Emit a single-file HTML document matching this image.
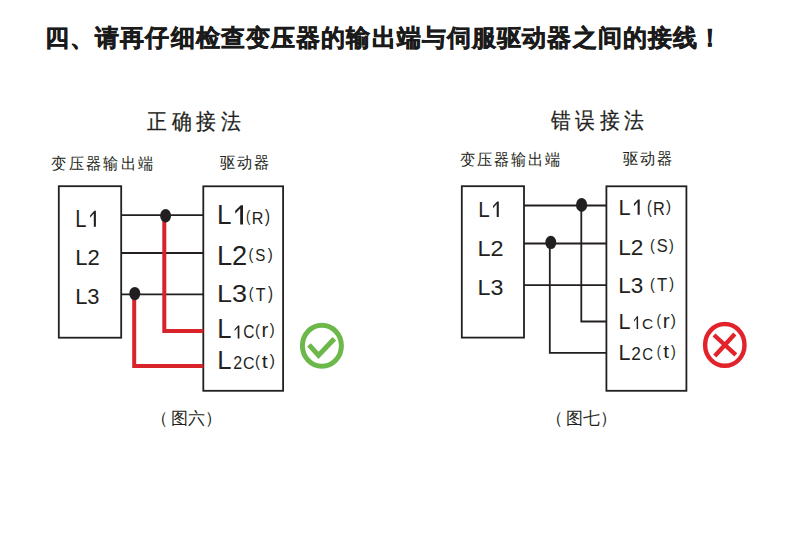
<!DOCTYPE html>
<html><head><meta charset="utf-8">
<style>
html,body{margin:0;padding:0;background:#fff;width:790px;height:535px;overflow:hidden}
svg{position:absolute;left:0;top:0;display:block}
text{fill:#231f20;font-kerning:none}
svg{font-family:"Liberation Sans",sans-serif}
.lat text{font-size:100px}
</style></head><body>
<svg width="790" height="535" viewBox="0 0 790 535">
<text x="45" y="45.9" font-size="24" font-weight="bold" fill="#1a1a1a" stroke="#1a1a1a" stroke-width="0.5" letter-spacing="1.12">四、请再仔细检查变压器的输出端与伺服驱动器之间的接线！</text>

<!-- LEFT DIAGRAM -->
<text transform="translate(147.2 128.6) scale(0.9 1)" x="0" y="0" font-size="22" letter-spacing="5.1" stroke="#231f20" stroke-width="0.25">正确接法</text>
<text transform="translate(51.4 169.1) scale(0.95 1)" font-size="15.5" letter-spacing="2.83">变压器输出端</text>
<text transform="translate(219.5 168.3) scale(0.95 1)" font-size="15.5" letter-spacing="2.55">驱动器</text>

<g fill="none" stroke="#231f20" stroke-width="1.8">
  <rect x="58.8" y="186.2" width="62.4" height="151.5"/>
  <rect x="203.3" y="186.3" width="79.8" height="204.5"/>
  <path d="M121 215.1H203.3M121 253H203.3M121 294.4H203.3"/>
</g>
<g fill="none" stroke="#d8232b" stroke-width="4">
  <path d="M164.3 216V331H203.3"/>
  <path d="M134.2 294V366H203.3"/>
</g>
<g fill="#231f20">
  <ellipse cx="165.6" cy="215.7" rx="5.5" ry="6.8"/>
  <ellipse cx="134.8" cy="293.6" rx="5.5" ry="6.7"/>
</g>
<g fill="none" stroke="#6cb84a" stroke-width="5">
  <ellipse cx="321.9" cy="345.8" rx="19.5" ry="20.5"/>
  <path d="M309 344.8L318.5 355.4L334.3 338.7"/>
</g>
<g font-size="16.5">
<text x="151.4" y="423.5">（</text><text x="171" y="423.5">图六</text><text x="204.9" y="423.5">）</text>
</g>

<!-- RIGHT DIAGRAM -->
<text transform="translate(550.7 127.9) scale(0.9 1)" x="0" y="0" font-size="22" letter-spacing="5.1" stroke="#231f20" stroke-width="0.25">错误接法</text>
<text transform="translate(459.9 165.4) scale(0.95 1)" font-size="15.5" letter-spacing="2.5">变压器输出端</text>
<text transform="translate(622.6 163.8) scale(0.95 1)" font-size="15.5" letter-spacing="2.55">驱动器</text>

<g fill="none" stroke="#231f20" stroke-width="1.8">
  <rect x="461.8" y="186.2" width="62.2" height="151.4"/>
  <rect x="606.4" y="186.3" width="80" height="204.5"/>
  <path d="M524 205.5H606.4M524 243.5H606.4M524 285.1H606.4"/>
  <path d="M581.3 205V321.5H606.4"/>
  <path d="M549.8 243V352.8H606.4"/>
</g>
<g fill="#231f20">
  <ellipse cx="581.6" cy="204.9" rx="5.6" ry="7"/>
  <ellipse cx="550.8" cy="242.4" rx="5.5" ry="6.7"/>
</g>
<g fill="none" stroke="#e2232b">
  <ellipse cx="724.8" cy="344.9" rx="19.7" ry="20.9" stroke-width="4.4"/>
  <path d="M714 335L735.8 354.8M734.8 334L714.8 356" stroke-width="4.3"/>
</g>
<g font-size="16.5">
<text x="546.4" y="423.5">（</text><text x="566" y="423.5">图七</text><text x="599.9" y="423.5">）</text>
</g>

<g class="lat" fill="#231f20">
<text transform="matrix(0.2019 0 0 0.2311 75.34 226.70)">L</text>
<path transform="matrix(5.800 0 0 15.900 90.10 210.80)" d="M0.72 0H1V1H0.64V0.17L0 0.44V0.29Z"/>
<text transform="matrix(0.2204 0 0 0.2249 75.19 265.30)">L2</text>
<text transform="matrix(0.2190 0 0 0.2203 75.20 304.18)">L3</text>
<text transform="matrix(0.2608 0 0 0.2776 217.06 224.40)">L</text>
<path transform="matrix(7.800 0 0 19.100 235.20 205.30)" d="M0.72 0H1V1H0.64V0.17L0 0.44V0.29Z"/>
<text transform="matrix(0.1282 0 0 0.1707 246.00 222.17)">(</text>
<text transform="matrix(0.1617 0 0 0.1686 251.77 223.70)">R</text>
<text transform="matrix(0.1509 0 0 0.1750 264.91 222.08)">)</text>
<text transform="matrix(0.2725 0 0 0.2793 216.97 264.80)">L2</text>
<text transform="matrix(0.1433 0 0 0.1685 248.41 260.21)">(</text>
<text transform="matrix(0.1511 0 0 0.1737 255.31 260.83)">S</text>
<text transform="matrix(0.1509 0 0 0.1707 267.81 260.17)">)</text>
<text transform="matrix(0.2707 0 0 0.2472 216.98 301.66)">L3</text>
<text transform="matrix(0.1433 0 0 0.1685 248.81 299.11)">(</text>
<text transform="matrix(0.1592 0 0 0.1759 255.64 300.80)">T</text>
<text transform="matrix(0.1509 0 0 0.1750 268.01 298.98)">)</text>
<text transform="matrix(0.2563 0 0 0.2674 217.20 338.30)">L</text>
<path transform="matrix(4.800 0 0 13.000 234.60 325.40)" d="M0.72 0H1V1H0.64V0.17L0 0.44V0.29Z"/>
<text transform="matrix(0.1547 0 0 0.1751 243.31 338.23)">C</text>
<text transform="matrix(0.1471 0 0 0.1707 255.09 335.67)">(</text>
<text transform="matrix(0.2040 0 0 0.1970 261.45 337.20)">r</text>
<text transform="matrix(0.1471 0 0 0.1685 269.81 335.21)">)</text>
<text transform="matrix(0.2563 0 0 0.2587 217.20 369.30)">L</text>
<text transform="matrix(0.1602 0 0 0.1762 233.19 369.30)">2</text>
<text transform="matrix(0.1595 0 0 0.1737 242.99 369.13)">C</text>
<text transform="matrix(0.1471 0 0 0.1707 255.09 366.67)">(</text>
<text transform="matrix(0.2144 0 0 0.1865 261.84 368.05)">t</text>
<text transform="matrix(0.1546 0 0 0.1685 269.81 366.21)">)</text>
<text transform="matrix(0.2064 0 0 0.2253 478.21 216.90)">L</text>
<path transform="matrix(5.800 0 0 15.500 493.00 201.40)" d="M0.72 0H1V1H0.64V0.17L0 0.44V0.29Z"/>
<text transform="matrix(0.2347 0 0 0.2263 477.57 256.00)">L2</text>
<text transform="matrix(0.2332 0 0 0.2175 477.59 294.69)">L3</text>
<text transform="matrix(0.2177 0 0 0.2238 618.61 214.80)">L</text>
<path transform="matrix(5.800 0 0 15.400 633.90 199.40)" d="M0.72 0H1V1H0.64V0.17L0 0.44V0.29Z"/>
<text transform="matrix(0.1433 0 0 0.1750 646.91 213.08)">(</text>
<text transform="matrix(0.1634 0 0 0.1759 652.96 214.50)">R</text>
<text transform="matrix(0.1509 0 0 0.1685 665.91 212.31)">)</text>
<text transform="matrix(0.2265 0 0 0.2177 618.24 254.60)">L2</text>
<text transform="matrix(0.1433 0 0 0.1728 649.91 250.92)">(</text>
<text transform="matrix(0.1650 0 0 0.1766 656.75 251.63)">S</text>
<text transform="matrix(0.1433 0 0 0.1717 669.12 250.54)">)</text>
<text transform="matrix(0.2251 0 0 0.2133 618.25 292.69)">L3</text>
<text transform="matrix(0.1433 0 0 0.1685 650.11 289.51)">(</text>
<text transform="matrix(0.1662 0 0 0.1788 656.93 290.50)">T</text>
<text transform="matrix(0.1433 0 0 0.1717 669.32 289.44)">)</text>
<text transform="matrix(0.2155 0 0 0.2282 618.43 329.00)">L</text>
<path transform="matrix(4.100 0 0 12.700 634.00 316.20)" d="M0.72 0H1V1H0.64V0.17L0 0.44V0.29Z"/>
<text transform="matrix(0.1547 0 0 0.1525 642.11 328.75)">C</text>
<text transform="matrix(0.1358 0 0 0.1707 656.56 326.17)">(</text>
<text transform="matrix(0.2080 0 0 0.1989 662.72 327.70)">r</text>
<text transform="matrix(0.1546 0 0 0.1728 670.71 326.12)">)</text>
<text transform="matrix(0.2155 0 0 0.2282 618.43 360.40)">L</text>
<text transform="matrix(0.1734 0 0 0.1762 631.23 359.70)">2</text>
<text transform="matrix(0.1500 0 0 0.1653 642.14 359.54)">C</text>
<text transform="matrix(0.1282 0 0 0.1707 656.80 357.07)">(</text>
<text transform="matrix(0.2056 0 0 0.1788 663.31 358.26)">t</text>
<text transform="matrix(0.1433 0 0 0.1728 671.02 356.82)">)</text>
</g>
</svg>
</body></html>
